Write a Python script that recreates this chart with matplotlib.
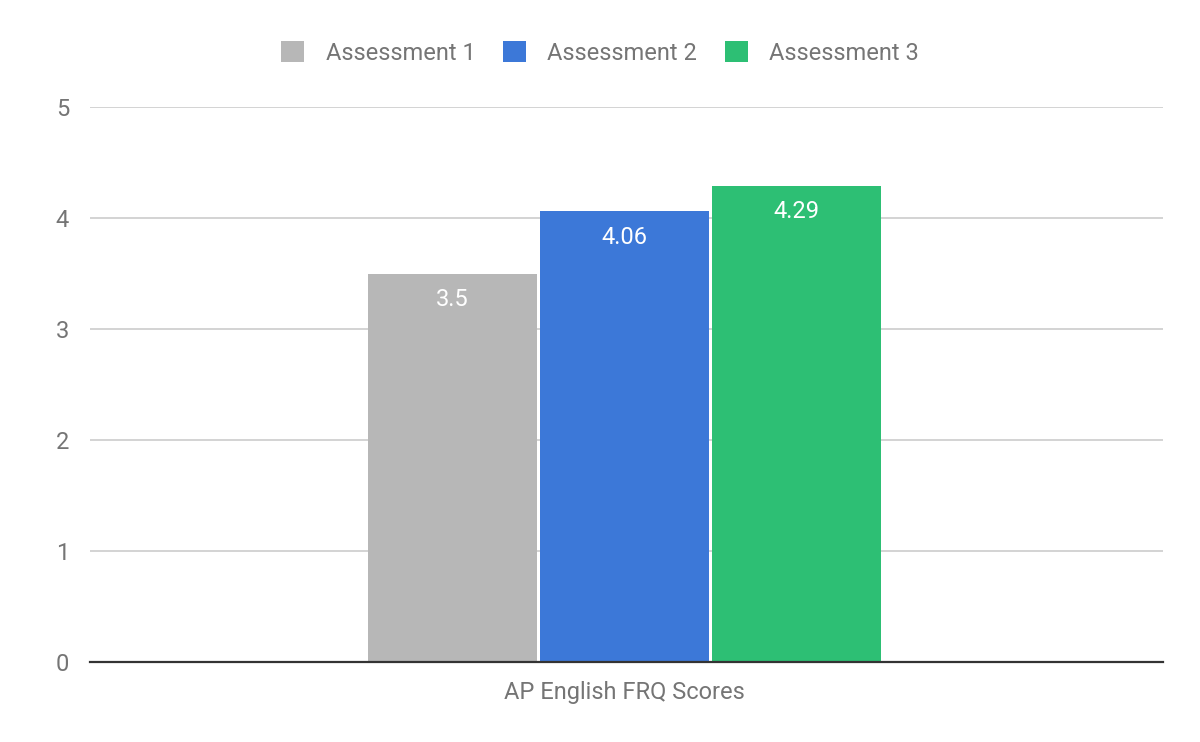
import matplotlib.pyplot as plt
from matplotlib.patches import Patch

plt.rcParams['font.family'] = ['Roboto', 'DejaVu Sans']

series = ['Assessment 1', 'Assessment 2', 'Assessment 3']
scores = [3.5, 4.06, 4.29]
labels = ['3.5', '4.06', '4.29']
category = 'AP English FRQ Scores'
colors = ['#b7b7b7', '#3c78d8', '#2dbf74']
text_color = '#757575'

fig = plt.figure(figsize=(12, 7.42), dpi=100)
ax = fig.add_axes([0.075, 0.1078, 0.894, 0.748])

offsets = [-1, 0, 1]
bar_w = 0.983
for off, val, lab, col in zip(offsets, scores, labels, colors):
    ax.bar(off, val, width=bar_w, color=col, zorder=3)
    ax.text(off, val - 0.235, lab, ha='center', va='center', color='white',
            fontsize=17, zorder=4)

ax.set_xlim(-3.108, 3.132)
ax.set_ylim(0, 5)
ax.set_yticks([0, 1, 2, 3, 4, 5])
ax.set_xticks([0])
ax.set_xticklabels([category])
ax.tick_params(axis='both', length=0, labelsize=17, colors=text_color)
ax.tick_params(axis='x', pad=14)
ax.tick_params(axis='y', pad=15)
ax.grid(axis='y', color='#cccccc', linewidth=1.2, zorder=0)
for s in ['top', 'right', 'left']:
    ax.spines[s].set_visible(False)
ax.spines['bottom'].set_color('#333333')
ax.spines['bottom'].set_linewidth(1.6)
ax.spines['bottom'].set_zorder(5)

handles = [Patch(facecolor=c, edgecolor='none') for c in colors]
fig.legend(handles, series, loc='center', bbox_to_anchor=(0.5, 0.929), ncol=3,
           frameon=False, fontsize=17, labelcolor=text_color,
           handlelength=1.0, handleheight=1.0, handletextpad=0.9,
           columnspacing=1.15)

fig.savefig('out.png', dpi=100)
